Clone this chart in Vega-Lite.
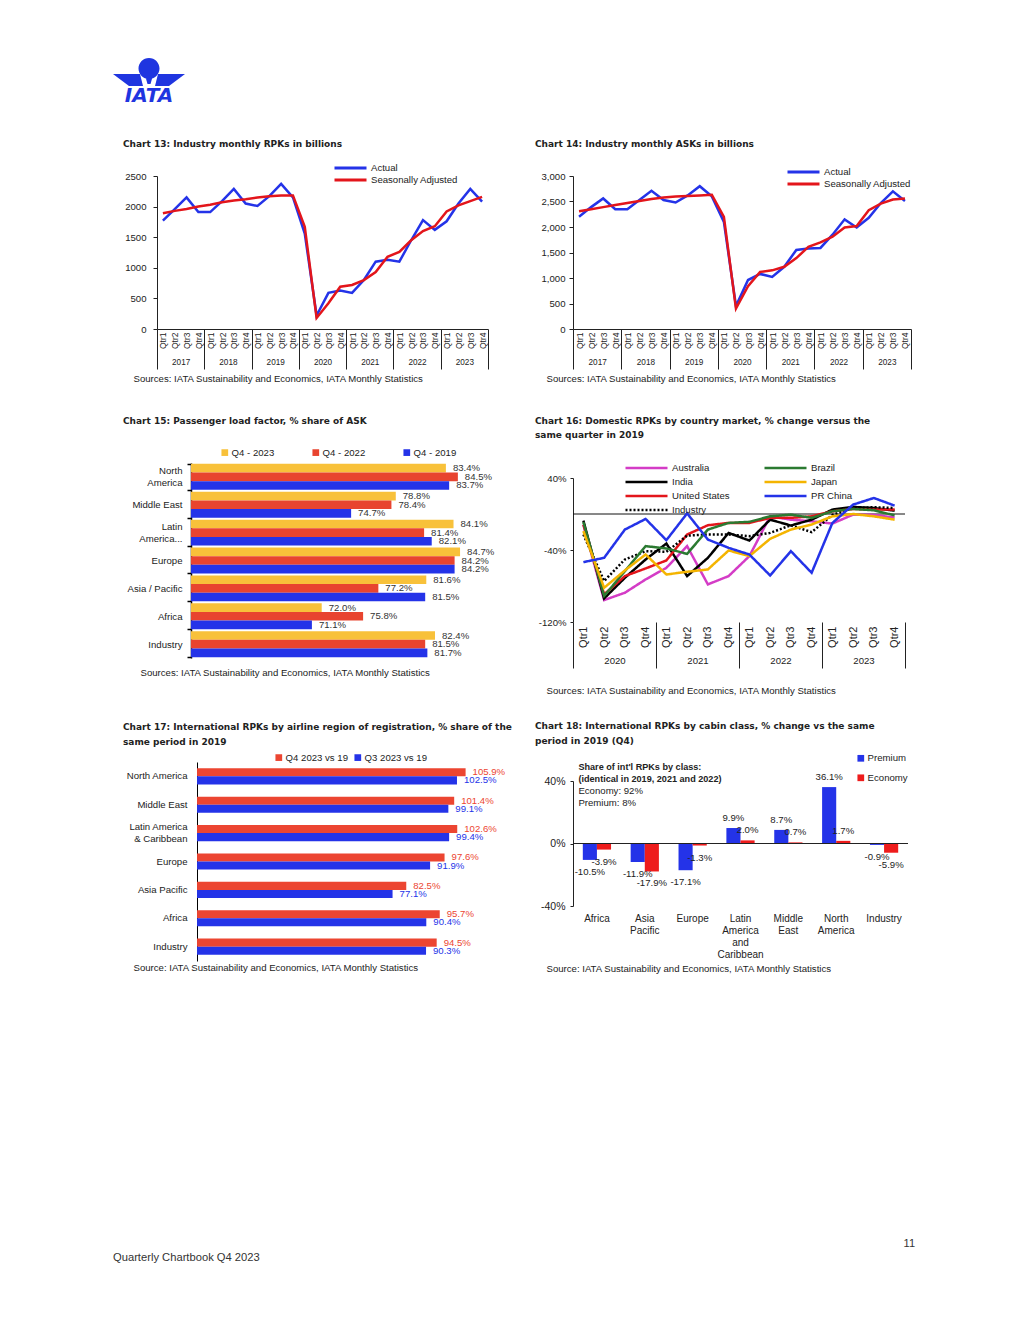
{
  "$schema": "https://vega.github.io/schema/vega-lite/v6.json",
  "background": "white",
  "padding": {"left": 113, "top": 57, "right": 10, "bottom": 10},
  "config": {
    "font": "Liberation Sans",
    "view": {"stroke": null},
    "axis": {"grid": false, "labelColor": "#222", "titleColor": "#222", "domainColor": "#222", "tickColor": "#222", "labelFontSize": 9.6, "titleFontSize": 9.6, "titleFontWeight": "normal", "labelFont": "Liberation Sans", "titleFont": "Liberation Sans", "labelOverlap": false},
    "title": {"fontSize": 9, "fontWeight": "bold", "anchor": "start", "frame": "group", "color": "#222", "font": "DejaVu Sans", "lineHeight": 14.5},
    "legend": {"labelFontSize": 9.6, "labelColor": "#222", "padding": 0, "labelFont": "Liberation Sans"},
    "text": {"font": "Liberation Sans"}
  },
  "spacing": 264,
  "resolve": {"scale": {"color": "independent", "strokeDash": "independent", "xOffset": "independent", "yOffset": "independent"}},
  "vconcat": [
    {
      "spacing": 34,
      "resolve": {"scale": {"color": "independent", "strokeDash": "independent", "xOffset": "independent", "yOffset": "independent"}},
      "vconcat": [
        {
          "width": 1,
          "height": 46,
          "data": {"values": [{"name": "IATA"}]},
          "layer": [
            {
              "mark": {"type": "point", "shape": "M-19,-13.5A10.5,10.5 0 1,1 2,-13.5A10.5,10.5 0 1,1 -19,-13.5Z M-44.5,-8L-17.5,-8L-14.5,4L-28.5,4Z M27.5,-8L0.5,-8L-2.5,4L11.5,4Z M-12,-5L-5,-5L-7,2L-10,2Z", "size": 4, "filled": true, "color": "#1f35e0", "opacity": 1, "strokeWidth": 0},
              "encoding": {}
            },
            {
              "mark": {"type": "text", "font": "DejaVu Sans", "fontWeight": "bold", "fontStyle": "italic", "fontSize": 20, "color": "#1f35e0", "dx": -8.5, "dy": 13.5, "align": "center", "baseline": "middle"},
              "encoding": {"text": {"field": "name"}}
            }
          ]
        },
        {
          "spacing": 23,
          "resolve": {"scale": {"color": "independent", "strokeDash": "independent", "xOffset": "independent", "yOffset": "independent"}},
          "hconcat": [
            {
              "spacing": 33,
              "resolve": {"scale": {"color": "independent", "strokeDash": "independent", "xOffset": "independent", "yOffset": "independent"}},
              "vconcat": [
                {
                  "width": 331,
                  "height": 153,
                  "title": {"text": "Chart 13: Industry monthly RPKs in billions", "dx": -34, "offset": 13},
                  "data": {"values": [
                    {"period": "2017 Q1", "year": "2017", "Actual": 1770, "Seasonally Adjusted": 1890},
                    {"period": "2017 Q2", "year": "2017", "Actual": 1960, "Seasonally Adjusted": 1930},
                    {"period": "2017 Q3", "year": "2017", "Actual": 2150, "Seasonally Adjusted": 1960},
                    {"period": "2017 Q4", "year": "2017", "Actual": 1910, "Seasonally Adjusted": 2000},
                    {"period": "2018 Q1", "year": "2018", "Actual": 1910, "Seasonally Adjusted": 2030},
                    {"period": "2018 Q2", "year": "2018", "Actual": 2090, "Seasonally Adjusted": 2070},
                    {"period": "2018 Q3", "year": "2018", "Actual": 2290, "Seasonally Adjusted": 2100},
                    {"period": "2018 Q4", "year": "2018", "Actual": 2050, "Seasonally Adjusted": 2120},
                    {"period": "2019 Q1", "year": "2019", "Actual": 2010, "Seasonally Adjusted": 2150},
                    {"period": "2019 Q2", "year": "2019", "Actual": 2170, "Seasonally Adjusted": 2170},
                    {"period": "2019 Q3", "year": "2019", "Actual": 2370, "Seasonally Adjusted": 2180},
                    {"period": "2019 Q4", "year": "2019", "Actual": 2150, "Seasonally Adjusted": 2180},
                    {"period": "2020 Q1", "year": "2020", "Actual": 1560, "Seasonally Adjusted": 1670},
                    {"period": "2020 Q2", "year": "2020", "Actual": 220, "Seasonally Adjusted": 180},
                    {"period": "2020 Q3", "year": "2020", "Actual": 590, "Seasonally Adjusted": 420},
                    {"period": "2020 Q4", "year": "2020", "Actual": 630, "Seasonally Adjusted": 690},
                    {"period": "2021 Q1", "year": "2021", "Actual": 590, "Seasonally Adjusted": 720},
                    {"period": "2021 Q2", "year": "2021", "Actual": 800, "Seasonally Adjusted": 800},
                    {"period": "2021 Q3", "year": "2021", "Actual": 1100, "Seasonally Adjusted": 930},
                    {"period": "2021 Q4", "year": "2021", "Actual": 1130, "Seasonally Adjusted": 1180},
                    {"period": "2022 Q1", "year": "2022", "Actual": 1100, "Seasonally Adjusted": 1260},
                    {"period": "2022 Q2", "year": "2022", "Actual": 1450, "Seasonally Adjusted": 1450},
                    {"period": "2022 Q3", "year": "2022", "Actual": 1780, "Seasonally Adjusted": 1600},
                    {"period": "2022 Q4", "year": "2022", "Actual": 1620, "Seasonally Adjusted": 1680},
                    {"period": "2023 Q1", "year": "2023", "Actual": 1760, "Seasonally Adjusted": 1920},
                    {"period": "2023 Q2", "year": "2023", "Actual": 2050, "Seasonally Adjusted": 2020},
                    {"period": "2023 Q3", "year": "2023", "Actual": 2290, "Seasonally Adjusted": 2090},
                    {"period": "2023 Q4", "year": "2023", "Actual": 2080, "Seasonally Adjusted": 2160}
                  ]},
                  "layer": [
                    {
                      "transform": [{"fold": ["Actual", "Seasonally Adjusted"], "as": ["series", "value"]}],
                      "mark": {"type": "line", "strokeWidth": 2.5},
                      "encoding": {
                        "x": {"field": "period", "type": "ordinal", "scale": {"type": "point", "padding": 0.5},
                          "axis": {"title": null, "orient": "bottom", "labelAngle": -90, "labelFontSize": 8.5, "labelPadding": 3, "ticks": false, "domain": true, "labelExpr": "'Qtr' + slice(datum.label, -1)"}},
                        "y": {"field": "value", "type": "quantitative", "scale": {"domain": [0, 2500], "nice": false},
                          "axis": {"title": null, "values": [0, 500, 1000, 1500, 2000, 2500], "format": "d", "tickSize": 4, "labelPadding": 7}},
                        "color": {"field": "series", "type": "nominal", "scale": {"domain": ["Actual", "Seasonally Adjusted"], "range": ["#2433e8", "#e3151b"]},
                          "legend": {"title": null, "orient": "none", "legendX": 176, "legendY": -14, "symbolType": "stroke", "symbolSize": 1024, "symbolStrokeWidth": 3, "clipHeight": 12, "rowPadding": 0, "labelOffset": 3}}
                      }
                    },
                    {
                      "mark": {"type": "point", "opacity": 0, "size": 1},
                      "encoding": {
                        "x": {"field": "year", "type": "ordinal", "scale": {"type": "band", "paddingInner": 0, "paddingOuter": 0},
                          "axis": {"orient": "bottom", "title": "Sources: IATA Sustainability and Economics, IATA Monthly Statistics", "titleX": -24, "titleAlign": "left", "titleAnchor": "start", "titlePadding": 3.5, "tickBand": "extent", "tickSize": 40, "labelPadding": -11, "labelFontSize": 8.2, "labelAngle": 0, "domain": false}}
                      }
                    }
                  ],
                  "resolve": {"scale": {"x": "independent"}}
                },
                {
                  "spacing": 46,
                  "resolve": {"scale": {"color": "independent", "strokeDash": "independent", "xOffset": "independent", "yOffset": "independent"}},
                  "vconcat": [
                    {
                      "width": 339,
                      "height": 195,
                      "title": {"text": "Chart 15: Passenger load factor, % share of ASK", "dx": -34, "offset": 22},
                      "data": {"values": [
                        {"region": "North America", "period": "Q4 - 2023", "value": 83.4, "label": "83.4%"},
                        {"region": "North America", "period": "Q4 - 2022", "value": 84.5, "label": "84.5%"},
                        {"region": "North America", "period": "Q4 - 2019", "value": 83.7, "label": "83.7%"},
                        {"region": "Middle East", "period": "Q4 - 2023", "value": 78.8, "label": "78.8%"},
                        {"region": "Middle East", "period": "Q4 - 2022", "value": 78.4, "label": "78.4%"},
                        {"region": "Middle East", "period": "Q4 - 2019", "value": 74.7, "label": "74.7%"},
                        {"region": "Latin America", "period": "Q4 - 2023", "value": 84.1, "label": "84.1%"},
                        {"region": "Latin America", "period": "Q4 - 2022", "value": 81.4, "label": "81.4%"},
                        {"region": "Latin America", "period": "Q4 - 2019", "value": 82.1, "label": "82.1%"},
                        {"region": "Europe", "period": "Q4 - 2023", "value": 84.7, "label": "84.7%"},
                        {"region": "Europe", "period": "Q4 - 2022", "value": 84.2, "label": "84.2%"},
                        {"region": "Europe", "period": "Q4 - 2019", "value": 84.2, "label": "84.2%"},
                        {"region": "Asia / Pacific", "period": "Q4 - 2023", "value": 81.6, "label": "81.6%"},
                        {"region": "Asia / Pacific", "period": "Q4 - 2022", "value": 77.2, "label": "77.2%"},
                        {"region": "Asia / Pacific", "period": "Q4 - 2019", "value": 81.5, "label": "81.5%"},
                        {"region": "Africa", "period": "Q4 - 2023", "value": 72.0, "label": "72.0%"},
                        {"region": "Africa", "period": "Q4 - 2022", "value": 75.8, "label": "75.8%"},
                        {"region": "Africa", "period": "Q4 - 2019", "value": 71.1, "label": "71.1%"},
                        {"region": "Industry", "period": "Q4 - 2023", "value": 82.4, "label": "82.4%"},
                        {"region": "Industry", "period": "Q4 - 2022", "value": 81.5, "label": "81.5%"},
                        {"region": "Industry", "period": "Q4 - 2019", "value": 81.7, "label": "81.7%"}
                      ]},
                      "encoding": {
                        "y": {"field": "region", "type": "nominal", "sort": ["North America", "Middle East", "Latin America", "Europe", "Asia / Pacific", "Africa", "Industry"], "scale": {"paddingInner": 0.07, "paddingOuter": 0.03},
                          "axis": {"title": null, "offset": -34, "tickBand": "extent", "tickSize": 4, "tickWidth": 1.5, "domainWidth": 1.5, "domainColor": "#000", "tickColor": "#000", "labelPadding": 5, "labelLineHeight": 12,
                            "labelOffset": {"condition": {"test": "datum.label == 'North America' || datum.label == 'Latin America'", "value": -6}, "value": 0},
                            "labelExpr": "datum.label == 'North America' ? ['North', 'America'] : datum.label == 'Latin America' ? ['Latin', 'America...'] : datum.label"}},
                        "yOffset": {"field": "period", "type": "nominal", "sort": ["Q4 - 2023", "Q4 - 2022", "Q4 - 2019"], "scale": {"domain": ["Q4 - 2023", "Q4 - 2022", "Q4 - 2019"]}}
                      },
                      "layer": [
                        {
                          "mark": {"type": "bar"},
                          "encoding": {
                            "x": {"field": "value", "type": "quantitative", "scale": {"domain": [56.88, 88], "nice": false, "zero": false},
                              "axis": {"title": "Sources: IATA Sustainability and Economics, IATA Monthly Statistics", "labels": false, "ticks": false, "domain": false, "titleX": -17, "titleAlign": "left", "titleAnchor": "start", "titlePadding": 9}},
                            "x2": {"datum": 60},
                            "color": {"field": "period", "type": "nominal", "scale": {"domain": ["Q4 - 2023", "Q4 - 2022", "Q4 - 2019"], "range": ["#f8c13a", "#e8442f", "#2433e8"]},
                              "legend": {"title": null, "orient": "none", "direction": "horizontal", "legendX": 63, "legendY": -15.5, "symbolType": "square", "symbolSize": 45, "columnPadding": 36, "labelOffset": 2}}
                          }
                        },
                        {
                          "mark": {"type": "text", "align": "left", "baseline": "middle", "dx": 7, "fontSize": 9.6, "color": "#333"},
                          "encoding": {
                            "x": {"field": "value", "type": "quantitative"},
                            "text": {"field": "label"}
                          }
                        }
                      ]
                    },
                    {
                      "width": 319,
                      "height": 199,
                      "title": {"text": ["Chart 17: International RPKs by airline region of registration, % share of the", "same period in 2019"], "dx": -34, "offset": 6},
                      "data": {"values": [
                        {"region": "North America", "series": "Q4 2023 vs 19", "value": 105.9, "label": "105.9%"},
                        {"region": "North America", "series": "Q3 2023 vs 19", "value": 102.5, "label": "102.5%"},
                        {"region": "Middle East", "series": "Q4 2023 vs 19", "value": 101.4, "label": "101.4%"},
                        {"region": "Middle East", "series": "Q3 2023 vs 19", "value": 99.1, "label": "99.1%"},
                        {"region": "Latin America & Caribbean", "series": "Q4 2023 vs 19", "value": 102.6, "label": "102.6%"},
                        {"region": "Latin America & Caribbean", "series": "Q3 2023 vs 19", "value": 99.4, "label": "99.4%"},
                        {"region": "Europe", "series": "Q4 2023 vs 19", "value": 97.6, "label": "97.6%"},
                        {"region": "Europe", "series": "Q3 2023 vs 19", "value": 91.9, "label": "91.9%"},
                        {"region": "Asia Pacific", "series": "Q4 2023 vs 19", "value": 82.5, "label": "82.5%"},
                        {"region": "Asia Pacific", "series": "Q3 2023 vs 19", "value": 77.1, "label": "77.1%"},
                        {"region": "Africa", "series": "Q4 2023 vs 19", "value": 95.7, "label": "95.7%"},
                        {"region": "Africa", "series": "Q3 2023 vs 19", "value": 90.4, "label": "90.4%"},
                        {"region": "Industry", "series": "Q4 2023 vs 19", "value": 94.5, "label": "94.5%"},
                        {"region": "Industry", "series": "Q3 2023 vs 19", "value": 90.3, "label": "90.3%"}
                      ]},
                      "encoding": {
                        "y": {"field": "region", "type": "nominal", "sort": ["North America", "Middle East", "Latin America & Caribbean", "Europe", "Asia Pacific", "Africa", "Industry"], "scale": {"paddingInner": 0.43, "paddingOuter": 0.22},
                          "axis": {"title": null, "offset": -40, "ticks": false, "labelPadding": 10, "domainColor": "#000", "labelLineHeight": 12,
                            "labelOffset": {"condition": {"test": "datum.label == 'Latin America & Caribbean'", "value": -6}, "value": 0},
                            "labelExpr": "datum.label == 'Latin America & Caribbean' ? ['Latin America', '& Caribbean'] : datum.label"}},
                        "yOffset": {"field": "series", "type": "nominal", "sort": ["Q4 2023 vs 19", "Q3 2023 vs 19"], "scale": {"domain": ["Q4 2023 vs 19", "Q3 2023 vs 19"]}},
                        "color": {"field": "series", "type": "nominal", "scale": {"domain": ["Q4 2023 vs 19", "Q3 2023 vs 19"], "range": ["#ec4531", "#2433e8"]},
                          "legend": {"title": null, "orient": "none", "direction": "horizontal", "legendX": 117, "legendY": -9.5, "symbolType": "square", "symbolSize": 45, "columnPadding": 4, "labelOffset": 2}}
                      },
                      "layer": [
                        {
                          "mark": {"type": "bar"},
                          "encoding": {
                            "x": {"field": "value", "type": "quantitative", "scale": {"domain": [-15.78, 110], "nice": false, "zero": false},
                              "axis": {"title": "Source: IATA Sustainability and Economics, IATA Monthly Statistics", "labels": false, "ticks": false, "domain": false, "titleX": -24, "titleAlign": "left", "titleAnchor": "start", "titlePadding": 1}},
                            "x2": {"datum": 0}
                          }
                        },
                        {
                          "mark": {"type": "text", "align": "left", "baseline": "middle", "dx": 7, "fontSize": 9.6},
                          "encoding": {
                            "x": {"field": "value", "type": "quantitative"},
                            "text": {"field": "label"}
                          }
                        }
                      ]
                    }
                  ]
                }
              ]
            },
            {
              "spacing": 33,
              "resolve": {"scale": {"color": "independent", "strokeDash": "independent", "xOffset": "independent", "yOffset": "independent"}},
              "vconcat": [
                {
                  "width": 338,
                  "height": 153,
                  "title": {"text": "Chart 14: Industry monthly ASKs in billions", "dx": -38, "offset": 17},
                  "data": {"values": [
                    {"period": "2017 Q1", "year": "2017", "Actual": 2200, "Seasonally Adjusted": 2310},
                    {"period": "2017 Q2", "year": "2017", "Actual": 2390, "Seasonally Adjusted": 2350},
                    {"period": "2017 Q3", "year": "2017", "Actual": 2560, "Seasonally Adjusted": 2390},
                    {"period": "2017 Q4", "year": "2017", "Actual": 2350, "Seasonally Adjusted": 2430},
                    {"period": "2018 Q1", "year": "2018", "Actual": 2350, "Seasonally Adjusted": 2470},
                    {"period": "2018 Q2", "year": "2018", "Actual": 2530, "Seasonally Adjusted": 2510},
                    {"period": "2018 Q3", "year": "2018", "Actual": 2710, "Seasonally Adjusted": 2550},
                    {"period": "2018 Q4", "year": "2018", "Actual": 2530, "Seasonally Adjusted": 2580},
                    {"period": "2019 Q1", "year": "2019", "Actual": 2480, "Seasonally Adjusted": 2600},
                    {"period": "2019 Q2", "year": "2019", "Actual": 2620, "Seasonally Adjusted": 2610},
                    {"period": "2019 Q3", "year": "2019", "Actual": 2800, "Seasonally Adjusted": 2620},
                    {"period": "2019 Q4", "year": "2019", "Actual": 2600, "Seasonally Adjusted": 2630},
                    {"period": "2020 Q1", "year": "2020", "Actual": 2100, "Seasonally Adjusted": 2200},
                    {"period": "2020 Q2", "year": "2020", "Actual": 450, "Seasonally Adjusted": 400},
                    {"period": "2020 Q3", "year": "2020", "Actual": 960, "Seasonally Adjusted": 840},
                    {"period": "2020 Q4", "year": "2020", "Actual": 1080, "Seasonally Adjusted": 1120},
                    {"period": "2021 Q1", "year": "2021", "Actual": 1020, "Seasonally Adjusted": 1150},
                    {"period": "2021 Q2", "year": "2021", "Actual": 1220, "Seasonally Adjusted": 1220},
                    {"period": "2021 Q3", "year": "2021", "Actual": 1550, "Seasonally Adjusted": 1390},
                    {"period": "2021 Q4", "year": "2021", "Actual": 1580, "Seasonally Adjusted": 1610},
                    {"period": "2022 Q1", "year": "2022", "Actual": 1590, "Seasonally Adjusted": 1700},
                    {"period": "2022 Q2", "year": "2022", "Actual": 1850, "Seasonally Adjusted": 1810},
                    {"period": "2022 Q3", "year": "2022", "Actual": 2150, "Seasonally Adjusted": 1990},
                    {"period": "2022 Q4", "year": "2022", "Actual": 1990, "Seasonally Adjusted": 2020},
                    {"period": "2023 Q1", "year": "2023", "Actual": 2180, "Seasonally Adjusted": 2330},
                    {"period": "2023 Q2", "year": "2023", "Actual": 2470, "Seasonally Adjusted": 2460},
                    {"period": "2023 Q3", "year": "2023", "Actual": 2700, "Seasonally Adjusted": 2540},
                    {"period": "2023 Q4", "year": "2023", "Actual": 2510, "Seasonally Adjusted": 2560}
                  ]},
                  "layer": [
                    {
                      "transform": [{"fold": ["Actual", "Seasonally Adjusted"], "as": ["series", "value"]}],
                      "mark": {"type": "line", "strokeWidth": 2.5},
                      "encoding": {
                        "x": {"field": "period", "type": "ordinal", "scale": {"type": "point", "padding": 0.5},
                          "axis": {"title": null, "orient": "bottom", "labelAngle": -90, "labelFontSize": 8.5, "labelPadding": 3, "ticks": false, "domain": true, "labelExpr": "'Qtr' + slice(datum.label, -1)"}},
                        "y": {"field": "value", "type": "quantitative", "scale": {"domain": [0, 3000], "nice": false},
                          "axis": {"title": null, "values": [0, 500, 1000, 1500, 2000, 2500, 3000], "format": ",.0f", "tickSize": 4, "labelPadding": 4}},
                        "color": {"field": "series", "type": "nominal", "scale": {"domain": ["Actual", "Seasonally Adjusted"], "range": ["#2433e8", "#e3151b"]},
                          "legend": {"title": null, "orient": "none", "legendX": 213, "legendY": -10, "symbolType": "stroke", "symbolSize": 1024, "symbolStrokeWidth": 3, "clipHeight": 12, "rowPadding": 0, "labelOffset": 3}}
                      }
                    },
                    {
                      "mark": {"type": "point", "opacity": 0, "size": 1},
                      "encoding": {
                        "x": {"field": "year", "type": "ordinal", "scale": {"type": "band", "paddingInner": 0, "paddingOuter": 0},
                          "axis": {"orient": "bottom", "title": "Sources: IATA Sustainability and Economics, IATA Monthly Statistics", "titleX": -27, "titleAlign": "left", "titleAnchor": "start", "titlePadding": 3.5, "tickBand": "extent", "tickSize": 40, "labelPadding": -11, "labelFontSize": 8.2, "labelAngle": 0, "domain": false}}
                      }
                    }
                  ],
                  "resolve": {"scale": {"x": "independent"}}
                },
                {
                  "spacing": 26,
                  "resolve": {"scale": {"color": "independent", "strokeDash": "independent", "xOffset": "independent", "yOffset": "independent"}},
                  "vconcat": [
                    {
                      "width": 332,
                      "height": 144,
                      "title": {"text": ["Chart 16: Domestic RPKs by country market, % change versus the", "same quarter in 2019"], "dx": -38, "offset": 21},
                      "data": {"values": [
                        {"period": "2020 Q1", "year": "2020", "Australia": -12, "Brazil": -9, "India": -7.3, "Japan": -19, "United States": -11.7, "PR China": -53.5, "Industry": -22.8},
                        {"period": "2020 Q2", "year": "2020", "Australia": -95.6, "Brazil": -91, "India": -93.8, "Japan": -82, "United States": -89.3, "PR China": -48.7, "Industry": -74.5},
                        {"period": "2020 Q3", "year": "2020", "Australia": -87.5, "Brazil": -63.5, "India": -70.9, "Japan": -62.7, "United States": -69, "PR China": -17.3, "Industry": -50.5},
                        {"period": "2020 Q4", "year": "2020", "Australia": -72.7, "Brazil": -35.7, "India": -50.5, "Japan": -45, "United States": -60.5, "PR China": -5.5, "Industry": -41.3},
                        {"period": "2021 Q1", "year": "2021", "Australia": -59.8, "Brazil": -38.3, "India": -32.8, "Japan": -67.2, "United States": -51.6, "PR China": -29.1, "Industry": -42},
                        {"period": "2021 Q2", "year": "2021", "Australia": -35.7, "Brazil": -44.3, "India": -69, "Japan": -64.2, "United States": -22.8, "PR China": 0.7, "Industry": -24},
                        {"period": "2021 Q3", "year": "2021", "Australia": -78.2, "Brazil": -17.3, "India": -48.7, "Japan": -61.6, "United States": -12.5, "PR China": -28.4, "Industry": -22.8},
                        {"period": "2021 Q4", "year": "2021", "Australia": -69, "Brazil": -9.9, "India": -21, "Japan": -40.5, "United States": -9.9, "PR China": -37.6, "Industry": -22.8},
                        {"period": "2022 Q1", "year": "2022", "Australia": -46.8, "Brazil": -8.7, "India": -29.5, "Japan": -46.8, "United States": -9.9, "PR China": -45, "Industry": -24.6},
                        {"period": "2022 Q2", "year": "2022", "Australia": -2.6, "Brazil": -2.6, "India": -6.3, "Japan": -27.6, "United States": -4.3, "PR China": -68.3, "Industry": -21},
                        {"period": "2022 Q3", "year": "2022", "Australia": -6.3, "Brazil": -0.7, "India": -12.8, "Japan": -17.3, "United States": -4.3, "PR China": -41.3, "Industry": -12.5},
                        {"period": "2022 Q4", "year": "2022", "Australia": -8.1, "Brazil": -4.3, "India": -6.3, "Japan": -11.7, "United States": -2.6, "PR China": -65.3, "Industry": -20.2},
                        {"period": "2023 Q1", "year": "2023", "Australia": -10.6, "Brazil": 3, "India": 4.9, "Japan": -2.6, "United States": 3, "PR China": -10, "Industry": -1},
                        {"period": "2023 Q2", "year": "2023", "Australia": -0.7, "Brazil": 5.6, "India": 7.8, "Japan": 0, "United States": 5.6, "PR China": 10.4, "Industry": 6.7},
                        {"period": "2023 Q3", "year": "2023", "Australia": -1, "Brazil": 4.1, "India": 6.7, "Japan": -2.6, "United States": 4.9, "PR China": 17.8, "Industry": 7.5},
                        {"period": "2023 Q4", "year": "2023", "Australia": -4, "Brazil": -1.5, "India": 3.7, "Japan": -6.3, "United States": 4.9, "PR China": 9.3, "Industry": 6.7}
                      ]},
                      "layer": [
                        {
                          "data": {"values": [{}]},
                          "mark": {"type": "rule", "color": "#111", "strokeWidth": 1},
                          "encoding": {"y": {"datum": 0}}
                        },
                        {
                          "transform": [{"fold": ["Australia", "India", "United States", "Industry", "Brazil", "Japan", "PR China"], "as": ["series", "value"]}],
                          "mark": {"type": "line", "strokeWidth": 2.5},
                          "encoding": {
                            "x": {"field": "period", "type": "ordinal", "scale": {"type": "point", "padding": 0.5},
                              "axis": {"title": null, "orient": "bottom", "labelAngle": -90, "labelFontSize": 11, "labelPadding": 4, "ticks": false, "domain": false, "labelExpr": "'Qtr' + slice(datum.label, -1)"}},
                            "y": {"field": "value", "type": "quantitative", "scale": {"domain": [-120, 40], "nice": false},
                              "axis": {"title": null, "values": [-120, -100, -80, -60, -40, -20, 0, 20, 40], "labelExpr": "datum.value + '%'", "tickSize": 3, "labelPadding": 4}},
                            "color": {"field": "series", "type": "nominal", "scale": {"domain": ["Australia", "India", "United States", "Industry", "Brazil", "Japan", "PR China"], "range": ["#d43cc6", "#000000", "#e3151b", "#000000", "#2b7a31", "#f4b400", "#2433e8"]},
                              "legend": {"title": null, "orient": "none", "legendX": 51, "legendY": -17, "columns": 2, "symbolType": "stroke", "symbolSize": 1764, "symbolStrokeWidth": 2.5, "clipHeight": 14, "rowPadding": 0, "columnPadding": 33, "labelOffset": 3}},
                            "strokeDash": {"field": "series", "type": "nominal", "scale": {"domain": ["Australia", "India", "United States", "Industry", "Brazil", "Japan", "PR China"], "range": [[1, 0], [1, 0], [1, 0], [2, 2], [1, 0], [1, 0], [1, 0]]},
                              "legend": {"title": null, "orient": "none", "legendX": 51, "legendY": -17, "columns": 2, "symbolType": "stroke", "symbolSize": 1764, "symbolStrokeWidth": 2.5, "clipHeight": 14, "rowPadding": 0, "columnPadding": 33, "labelOffset": 3}}
                          }
                        },
                        {
                          "mark": {"type": "point", "opacity": 0, "size": 1},
                          "encoding": {
                            "x": {"field": "year", "type": "ordinal", "scale": {"type": "band", "paddingInner": 0, "paddingOuter": 0},
                              "axis": {"orient": "bottom", "title": "Sources: IATA Sustainability and Economics, IATA Monthly Statistics", "titleX": -27, "titleAlign": "left", "titleAnchor": "start", "titlePadding": 17, "tickBand": "extent", "tickSize": 46, "labelPadding": -13, "labelFontSize": 9.6, "labelAngle": 0, "domain": false}}
                          }
                        }
                      ],
                      "resolve": {"scale": {"x": "independent"}}
                    },
                    {
                      "width": 335,
                      "height": 125,
                      "title": {"text": ["Chart 18: International RPKs by cabin class, % change vs the same", "period in 2019 (Q4)"], "dx": -38, "offset": 8},
                      "data": {"values": [
                        {"region": "Africa", "class": "Premium", "value": -10.5, "label": "-10.5%"},
                        {"region": "Africa", "class": "Economy", "value": -3.9, "label": "-3.9%"},
                        {"region": "Asia Pacific", "class": "Premium", "value": -11.9, "label": "-11.9%"},
                        {"region": "Asia Pacific", "class": "Economy", "value": -17.9, "label": "-17.9%"},
                        {"region": "Europe", "class": "Premium", "value": -17.1, "label": "-17.1%"},
                        {"region": "Europe", "class": "Economy", "value": -1.3, "label": "-1.3%"},
                        {"region": "Latin America and Caribbean", "class": "Premium", "value": 9.9, "label": "9.9%"},
                        {"region": "Latin America and Caribbean", "class": "Economy", "value": 2.0, "label": "2.0%"},
                        {"region": "Middle East", "class": "Premium", "value": 8.7, "label": "8.7%"},
                        {"region": "Middle East", "class": "Economy", "value": 0.7, "label": "0.7%"},
                        {"region": "North America", "class": "Premium", "value": 36.1, "label": "36.1%"},
                        {"region": "North America", "class": "Economy", "value": 1.7, "label": "1.7%"},
                        {"region": "Industry", "class": "Premium", "value": -0.9, "label": "-0.9%"},
                        {"region": "Industry", "class": "Economy", "value": -5.9, "label": "-5.9%"}
                      ]},
                      "layer": [
                        {
                          "mark": {"type": "bar"},
                          "encoding": {
                            "x": {"field": "region", "type": "nominal", "sort": ["Africa", "Asia Pacific", "Europe", "Latin America and Caribbean", "Middle East", "North America", "Industry"], "scale": {"paddingInner": 0.41, "paddingOuter": 0.205},
                              "axis": {"title": "Source: IATA Sustainability and Economics, IATA Monthly Statistics", "titleX": -27, "titleAlign": "left", "titleAnchor": "start", "titlePadding": 4.5, "labelAngle": 0, "domain": false, "ticks": false, "labelPadding": 7, "labelFontSize": 10, "labelLineHeight": 12, "labelExpr": "datum.label == 'Asia Pacific' ? ['Asia', 'Pacific'] : datum.label == 'Latin America and Caribbean' ? ['Latin', 'America', 'and', 'Caribbean'] : datum.label == 'Middle East' ? ['Middle', 'East'] : datum.label == 'North America' ? ['North', 'America'] : datum.label"}},
                            "xOffset": {"field": "class", "type": "nominal", "sort": ["Premium", "Economy"], "scale": {"domain": ["Premium", "Economy"]}},
                            "y": {"field": "value", "type": "quantitative", "scale": {"domain": [-40, 40], "nice": false},
                              "axis": {"title": null, "values": [-40, -30, -20, -10, 0, 10, 20, 30, 40], "labelExpr": "datum.value + '%'", "tickSize": 3, "labelPadding": 5, "labelFontSize": 10.5}},
                            "color": {"field": "class", "type": "nominal", "scale": {"domain": ["Premium", "Economy"], "range": ["#2433e8", "#ee1c1c"]},
                              "legend": {"title": null, "orient": "none", "legendX": 283, "legendY": -27.5, "symbolType": "square", "symbolSize": 45, "rowPadding": 8.5, "labelOffset": 2}}
                          }
                        },
                        {
                          "data": {"values": [{}]},
                          "mark": {"type": "rule", "color": "#222", "strokeWidth": 1},
                          "encoding": {"y": {"datum": 0}}
                        },
                        {
                          "transform": [{"filter": "datum.value >= 0"}],
                          "mark": {"type": "text", "baseline": "bottom", "dy": -5, "fontSize": 9.6, "color": "#222"},
                          "encoding": {
                            "x": {"field": "region", "type": "nominal", "sort": ["Africa", "Asia Pacific", "Europe", "Latin America and Caribbean", "Middle East", "North America", "Industry"]},
                            "xOffset": {"field": "class", "type": "nominal", "sort": ["Premium", "Economy"]},
                            "y": {"field": "value", "type": "quantitative"},
                            "text": {"field": "label"}
                          }
                        },
                        {
                          "transform": [{"filter": "datum.value < 0"}],
                          "mark": {"type": "text", "baseline": "top", "dy": 7, "fontSize": 9.6, "color": "#222"},
                          "encoding": {
                            "x": {"field": "region", "type": "nominal", "sort": ["Africa", "Asia Pacific", "Europe", "Latin America and Caribbean", "Middle East", "North America", "Industry"]},
                            "xOffset": {"field": "class", "type": "nominal", "sort": ["Premium", "Economy"]},
                            "y": {"field": "value", "type": "quantitative"},
                            "text": {"field": "label"}
                          }
                        },
                        {
                          "data": {"values": [{}]},
                          "mark": {"type": "text", "align": "left", "baseline": "top", "dx": -18.5, "fontSize": 9.1, "fontWeight": "bold", "lineHeight": 12, "color": "#222", "text": ["Share of int'l RPKs by class:", "(identical in 2019, 2021 and 2022)"]},
                          "encoding": {"x": {"datum": "Africa"}, "y": {"datum": 51.8}}
                        },
                        {
                          "data": {"values": [{}]},
                          "mark": {"type": "text", "align": "left", "baseline": "top", "dx": -18.5, "fontSize": 9.6, "lineHeight": 12, "color": "#222", "text": ["Economy: 92%", "Premium:  8%"]},
                          "encoding": {"x": {"datum": "Africa"}, "y": {"datum": 36.5}}
                        }
                      ]
                    }
                  ]
                }
              ]
            }
          ]
        }
      ]
    },
    {
      "width": 758,
      "height": 14,
      "data": {"values": [
        {"item": "Quarterly Chartbook Q4 2023", "role": "title"},
        {"item": "11", "role": "page"}
      ]},
      "encoding": {
        "x": {"field": "role", "type": "nominal", "scale": {"type": "point", "padding": 0, "domain": ["title", "page"]}, "axis": null},
        "y": {"field": "role", "type": "nominal", "scale": {"type": "point", "padding": 0, "domain": ["page", "title"]}, "axis": null}
      },
      "layer": [
        {
          "transform": [{"filter": "datum.role == 'title'"}],
          "mark": {"type": "text", "align": "left", "baseline": "middle", "dx": -44, "fontSize": 11.2, "color": "#333"},
          "encoding": {"text": {"field": "item"}}
        },
        {
          "transform": [{"filter": "datum.role == 'page'"}],
          "mark": {"type": "text", "align": "right", "baseline": "middle", "fontSize": 11, "color": "#333"},
          "encoding": {"text": {"field": "item"}}
        }
      ]
    }
  ]
}
